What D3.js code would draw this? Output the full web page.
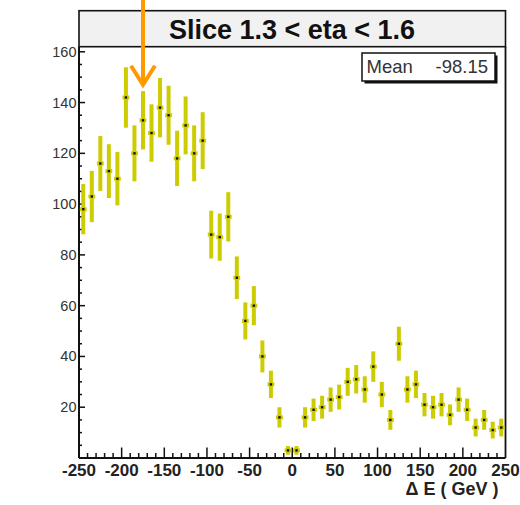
<!DOCTYPE html>
<html><head><meta charset="utf-8">
<script src="https://cdn.jsdelivr.net/npm/d3@7/dist/d3.min.js"></script>
<style>html,body{margin:0;padding:0;background:#fff;}svg{display:block;}</style>
</head><body>
<script>
// ---- data ----
const binCenters = d3.range(50).map(i => -245 + 10 * i);
const counts = [98,103,116,113,110,142,120,133,128,138,135,118,131,120,125,88,87,95,71,54,60,40,29,16,3,3,16,19,20,23,24,30,31,27,36,25,15,45,27,29,21,20,21,17,23,19,12,15,11,12];
const errors = [9.9,10.1,10.8,10.6,10.5,11.9,11,11.5,11.3,11.7,11.6,10.9,11.4,11,11.2,9.4,9.3,9.7,8.4,7.3,7.7,6.3,5.4,4,1.7,1.7,4,4.4,4.5,4.8,4.9,5.5,5.6,5.2,6,5,3.9,6.7,5.2,5.4,4.6,4.5,4.6,4.1,4.8,4.4,3.5,3.9,3.3,3.5];
const xTickLabels = [-250,-200,-150,-100,-50,0,50,100,150,200,250];
const yTickLabels = [20,40,60,80,100,120,140,160];
const title = "Slice 1.3 < eta < 1.6";
const statsLabel = "Mean";
const statsValue = "-98.15";
const xTitle = "\u0394 E ( GeV )";
const arrowX = -175;
const arrowTip = 147;

// ---- layout ----
const W = 520, H = 505;
const L = 79, R = 505.5, T = 46.7, B = 458;
const svg = d3.select("body").append("svg").attr("width", W).attr("height", H);
const x = d3.scaleLinear().domain([-250, 250]).range([L, R]);
const y = d3.scaleLinear().domain([0, 162]).range([B, T]);
const yellow = "#cccc00";

// title box
svg.append("rect").attr("x", L).attr("y", 10.7).attr("width", R - L).attr("height", T - 10.7)
  .attr("fill", "#f1f1f1").attr("stroke", "#111").attr("stroke-width", 1.6);
svg.append("text").attr("x", 292).attr("y", 39.3).attr("text-anchor", "middle")
  .attr("font-family", "Liberation Sans, Arial, sans-serif").attr("font-weight", "bold")
  .attr("font-size", 27).attr("fill", "#111").text(title);

// frame
svg.append("line").attr("x1", L).attr("x2", L).attr("y1", T).attr("y2", B).attr("stroke", "#111").attr("stroke-width", 2);
svg.append("line").attr("x1", L).attr("x2", R).attr("y1", B).attr("y2", B).attr("stroke", "#111").attr("stroke-width", 2);
svg.append("line").attr("x1", R).attr("x2", R).attr("y1", T).attr("y2", B).attr("stroke", "#111").attr("stroke-width", 1.8);

// y axis ticks
const yMinor = d3.range(5, 162, 5);
svg.append("g").selectAll("line").data(yMinor).join("line")
  .attr("x1", L).attr("x2", d => L + (d % 20 === 0 ? 6 : 3))
  .attr("y1", d => y(d)).attr("y2", d => y(d)).attr("stroke", "#111").attr("stroke-width", 1.5);
svg.append("g").selectAll("text").data(yTickLabels).join("text")
  .attr("x", 76.5).attr("y", d => y(d) + 5).attr("text-anchor", "end")
  .attr("font-family", "Liberation Sans, Arial, sans-serif").attr("font-size", 14.5)
  .attr("fill", "#333").text(d => d);

// x axis ticks
const xMinor = d3.range(-240, 250, 10);
svg.append("g").selectAll("line").data(xMinor).join("line")
  .attr("x1", d => x(d)).attr("x2", d => x(d))
  .attr("y1", B).attr("y2", d => B - (d % 50 === 0 ? 10.5 : 5))
  .attr("stroke", "#111").attr("stroke-width", 1.5);
svg.append("g").selectAll("text").data(xTickLabels).join("text")
  .attr("x", d => x(d)).attr("y", 475.5).attr("text-anchor", "middle")
  .attr("font-family", "Liberation Sans, Arial, sans-serif").attr("font-weight", "bold")
  .attr("font-size", 17).attr("fill", "#222").text(d => d);
svg.append("text").attr("x", 498.5).attr("y", 495).attr("text-anchor", "end")
  .attr("font-family", "Liberation Sans, Arial, sans-serif").attr("font-weight", "bold")
  .attr("font-size", 18).attr("fill", "#222").attr("xml:space", "preserve").text(xTitle);

// data points
const pts = svg.append("g");
const data = binCenters.map((c, i) => ({c, v: counts[i], e: errors[i]}));
pts.selectAll("line.v").data(data).join("line").attr("class", "v")
  .attr("x1", d => x(d.c)).attr("x2", d => x(d.c))
  .attr("y1", d => y(d.v - d.e)).attr("y2", d => y(d.v + d.e))
  .attr("stroke", yellow).attr("stroke-width", 4);
pts.selectAll("line.h").data(data).join("line").attr("class", "h")
  .attr("x1", d => x(d.c - 4)).attr("x2", d => x(d.c + 4))
  .attr("y1", d => y(d.v)).attr("y2", d => y(d.v))
  .attr("stroke", yellow).attr("stroke-width", 4);
pts.selectAll("rect").data(data).join("rect")
  .attr("x", d => x(d.c) - 1.2).attr("y", d => y(d.v) - 1.2)
  .attr("width", 2.4).attr("height", 2.4).attr("fill", "#111");

// stats box
svg.append("rect").attr("x", 364.5).attr("y", 55.5).attr("width", 133).attr("height", 28).attr("fill", "#111");
svg.append("rect").attr("x", 362).attr("y", 53).attr("width", 133).attr("height", 28)
  .attr("fill", "#fff").attr("stroke", "#111").attr("stroke-width", 1.5);
svg.append("text").attr("x", 366.5).attr("y", 72.5)
  .attr("font-family", "Liberation Sans, Arial, sans-serif").attr("font-size", 18.5)
  .attr("fill", "#333").text(statsLabel);
svg.append("text").attr("x", 488).attr("y", 72.5).attr("text-anchor", "end")
  .attr("font-family", "Liberation Sans, Arial, sans-serif").attr("font-size", 18.5)
  .attr("fill", "#333").text(statsValue);

// arrow
const orange = "#ff9900";
const ax = x(arrowX), ay = y(arrowTip);
svg.append("line").attr("x1", ax).attr("x2", ax).attr("y1", 0).attr("y2", ay - 1)
  .attr("stroke", orange).attr("stroke-width", 4);
svg.append("path").attr("d", `M${ax - 12},${ay - 19}L${ax},${ay}L${ax + 12},${ay - 19}`)
  .attr("fill", "none").attr("stroke", orange).attr("stroke-width", 4).attr("stroke-linejoin", "miter");
</script>
</body></html>
